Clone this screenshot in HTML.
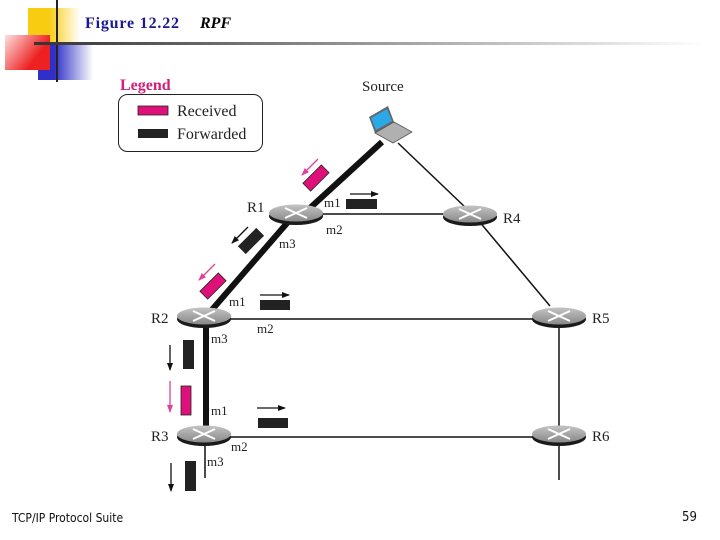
<!DOCTYPE html>
<html><head><meta charset="utf-8"><style>
html,body{margin:0;padding:0;background:#fff;}
svg{display:block;}
</style></head><body>
<svg width="720" height="540" viewBox="0 0 720 540" xmlns="http://www.w3.org/2000/svg">
<defs>
<linearGradient id="gy" x1="0" x2="1"><stop offset="0.4" stop-color="#f8cc10"/><stop offset="1" stop-color="#fff"/></linearGradient>
<linearGradient id="gr" x1="1" y1="0.6" x2="0" y2="0"><stop offset="0.2" stop-color="#ee2020"/><stop offset="1" stop-color="#fde0e0"/></linearGradient>
<linearGradient id="gb" x1="0" x2="1"><stop offset="0.3" stop-color="#3030c8"/><stop offset="1" stop-color="#fff"/></linearGradient>
<linearGradient id="gl" x1="0" x2="1"><stop offset="0" stop-color="#333"/><stop offset="1" stop-color="#fff"/></linearGradient>
<linearGradient id="rt" x1="0" y1="0" x2="0" y2="1"><stop offset="0" stop-color="#c4c4c4"/><stop offset="1" stop-color="#888"/></linearGradient>
<g id="router">
<ellipse cx="0" cy="3" rx="27" ry="9" fill="#1a1a1a"/>
<ellipse cx="0" cy="0" rx="27" ry="8.5" fill="url(#rt)"/>
<path d="M-11,-5 L11,5 M-11,5 L11,-5" stroke="#fff" stroke-width="2"/>
</g>
<marker id="ab" markerWidth="8" markerHeight="6" refX="7" refY="3" orient="auto" markerUnits="userSpaceOnUse"><path d="M0,0 L8,3 L0,6 Z" fill="#111"/></marker>
<marker id="ap" markerWidth="8" markerHeight="6" refX="7" refY="3" orient="auto" markerUnits="userSpaceOnUse"><path d="M0,0 L8,3 L0,6 Z" fill="#e0409a"/></marker>
</defs>
<!-- header decoration -->
<rect x="28" y="8" width="52" height="37" fill="url(#gy)"/>
<rect x="38" y="45" width="55" height="35" fill="url(#gb)"/>
<rect x="5" y="35" width="45" height="35" fill="url(#gr)"/>
<rect x="56" y="0" width="2" height="82" fill="#222"/>
<rect x="34" y="42" width="670" height="3" fill="url(#gl)"/>
<text x="85" y="28" font-family="Liberation Serif, serif" font-size="16" font-weight="bold" fill="#1a1a90" textLength="94">Figure 12.22</text>
<text x="200" y="28" font-family="Liberation Serif, serif" font-size="16" font-style="italic" font-weight="bold" fill="#000">RPF</text>
<!-- legend -->
<text x="120" y="90" font-family="Liberation Serif, serif" font-size="16" font-weight="bold" fill="#d0207a">Legend</text>
<rect x="118.5" y="94.5" width="144" height="57" rx="9" fill="none" stroke="#222" stroke-width="1"/>
<rect x="138" y="106" width="30" height="9" fill="#e0107a" stroke="#222" stroke-width="0.8"/>
<rect x="138" y="129" width="30" height="9" fill="#222"/>
<text x="177" y="116" font-family="Liberation Serif, serif" font-size="16" fill="#222">Received</text>
<text x="177" y="139" font-family="Liberation Serif, serif" font-size="16" fill="#222">Forwarded</text>
<!-- thin links -->
<g stroke="#111" stroke-width="1.5" fill="none">
<line x1="398" y1="143" x2="466" y2="208"/>
<line x1="300" y1="214" x2="470" y2="214"/>
<line x1="478" y1="220" x2="550" y2="306"/>
<line x1="210" y1="319" x2="559" y2="319"/>
<line x1="559" y1="319" x2="559" y2="480"/>
<line x1="210" y1="437" x2="559" y2="437"/>
<line x1="205" y1="437" x2="205" y2="478"/>
</g>
<!-- thick path -->
<g stroke="#111" stroke-width="6" fill="none">
<line x1="382" y1="142" x2="310" y2="208"/>
<line x1="288" y1="222" x2="210" y2="312"/>
<line x1="206" y1="320" x2="206" y2="432"/>
</g>
<!-- source laptop -->
<text x="362" y="91" font-family="Liberation Serif, serif" font-size="15" fill="#222">Source</text>
<g transform="translate(390,128)">
<polygon points="-21,-11 -2,-22 4,-6 -15,5" fill="#666"/>
<polygon points="-19,-10 -3,-19 2,-7 -14,2" fill="#2aa8e8"/>
<polygon points="-15,5 4,-6 22,4 3,15" fill="#b0b0b0" stroke="#555" stroke-width="0.8"/>
</g>
<!-- routers -->
<use href="#router" x="296" y="213"/>
<use href="#router" x="470" y="214"/>
<use href="#router" x="204" y="316"/>
<use href="#router" x="559" y="316"/>
<use href="#router" x="204" y="434"/>
<use href="#router" x="559" y="434"/>
<g font-family="Liberation Serif, serif" font-size="15" fill="#222">
<text x="247" y="212">R1</text>
<text x="503" y="223">R4</text>
<text x="151" y="323">R2</text>
<text x="592" y="323">R5</text>
<text x="151" y="441">R3</text>
<text x="592" y="441">R6</text>
</g>
<g font-family="Liberation Serif, serif" font-size="13" fill="#222">
<text x="324" y="207">m1</text>
<text x="326" y="234">m2</text>
<text x="279" y="248">m3</text>
<text x="229" y="306">m1</text>
<text x="257" y="333">m2</text>
<text x="211" y="343">m3</text>
<text x="211" y="415">m1</text>
<text x="231" y="451">m2</text>
<text x="207" y="466">m3</text>
</g>
<!-- packets -->
<rect x="-13" y="-5.5" width="26" height="11" fill="#e0107a" stroke="#222" stroke-width="0.8" transform="translate(316,178) rotate(-45)"/>
<line x1="318" y1="159" x2="302" y2="175" stroke="#e0409a" stroke-width="1.3" marker-end="url(#ap)"/>
<rect x="346" y="199" width="31" height="10" fill="#222"/>
<line x1="350" y1="194" x2="378" y2="194" stroke="#111" stroke-width="1.3" marker-end="url(#ab)"/>
<rect x="-13" y="-5.5" width="26" height="11" fill="#222" transform="translate(251,241) rotate(-45)"/>
<line x1="248" y1="227" x2="232" y2="243" stroke="#111" stroke-width="1.3" marker-end="url(#ab)"/>
<rect x="-13" y="-5.5" width="26" height="11" fill="#e0107a" stroke="#222" stroke-width="0.8" transform="translate(213,286) rotate(-45)"/>
<line x1="215" y1="264" x2="199" y2="280" stroke="#e0409a" stroke-width="1.3" marker-end="url(#ap)"/>
<rect x="260" y="300" width="30" height="10" fill="#222"/>
<line x1="260" y1="295" x2="289" y2="295" stroke="#111" stroke-width="1.3" marker-end="url(#ab)"/>
<rect x="183" y="340" width="11" height="29" fill="#222"/>
<line x1="170" y1="345" x2="170" y2="370" stroke="#111" stroke-width="1.3" marker-end="url(#ab)"/>
<rect x="181" y="386" width="10" height="29" fill="#e0107a" stroke="#222" stroke-width="0.8"/>
<line x1="170" y1="381" x2="170" y2="412" stroke="#e0409a" stroke-width="1.3" marker-end="url(#ap)"/>
<rect x="258" y="418" width="30" height="10" fill="#222"/>
<line x1="257" y1="408" x2="268" y2="408" stroke="#111" stroke-width="0" />
<line x1="257" y1="408" x2="285" y2="408" stroke="#111" stroke-width="1.3" marker-end="url(#ab)"/>
<rect x="185" y="461" width="11" height="30" fill="#222"/>
<line x1="171" y1="463" x2="171" y2="491" stroke="#111" stroke-width="1.3" marker-end="url(#ab)"/>
<!-- footer -->
<text x="12" y="522" font-family="DejaVu Sans Condensed, DejaVu Sans, sans-serif" font-size="12" fill="#111">TCP/IP Protocol Suite</text>
<text x="682" y="521" font-family="DejaVu Sans Condensed, DejaVu Sans, sans-serif" font-size="13" fill="#111">59</text>
</svg>
</body></html>
